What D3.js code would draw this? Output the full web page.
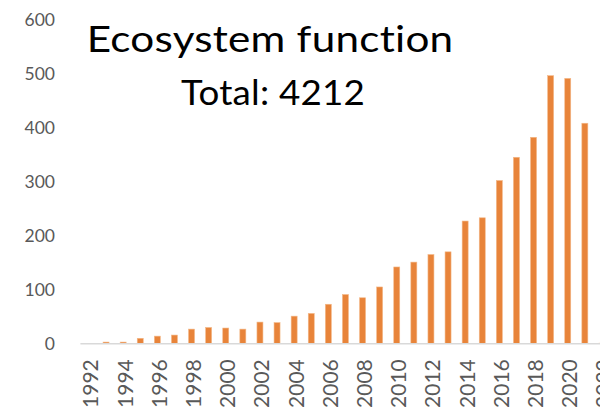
<!DOCTYPE html>
<html>
<head>
<meta charset="utf-8">
<script src="https://cdn.jsdelivr.net/npm/d3@7"></script>
<style>
  html, body { margin: 0; padding: 0; background: #fff; }
  svg { display: block; }
  text { font-variant-ligatures: none; font-feature-settings: "liga" 0, "clig" 0; }
</style>
</head>
<body>
<svg id="chart" width="600" height="411"></svg>
<script>
// Publications per year on ecosystem function
const years = d3.range(1992, 2023).map(String);
const counts = [0, 3, 3, 10, 14, 16, 27, 30, 29, 27, 40, 39, 51, 56, 73, 91,
                85, 105, 142, 151, 165, 170, 227, 233, 302, 345, 382, 496, 491, 408, 1];
const yTicks = [0, 100, 200, 300, 400, 500, 600];
const xTickLabels = years.filter(y => +y % 2 === 0);
const titleText = "Ecosystem function";
const totalText = "Total: " + d3.sum(counts);

const svg = d3.select("#chart");
const barColor = "#E8843A";
const labelColor = "#595959";

const x = d3.scaleBand()
  .domain(years)
  .range([80.4, 80.4 + years.length * 17.1])
  .paddingInner(0.65)
  .paddingOuter(0.325);

const y = d3.scaleLinear().domain([0, 600]).range([343.7, 19.5]);

// Bars
svg.append("g")
  .selectAll("rect")
  .data(counts)
  .join("rect")
  .attr("x", (d, i) => x(years[i]))
  .attr("width", x.bandwidth())
  .attr("y", d => y(d))
  .attr("height", d => y(0) - y(d))
  .attr("fill", barColor)
  .attr("stroke", "#F3B888")
  .attr("stroke-width", 0.6);

// Category axis: baseline plus rotated year labels
const xAxis = d3.axisBottom(x).tickValues(xTickLabels).tickSize(0).tickSizeOuter(0);
const gx = svg.append("g")
  .attr("transform", `translate(0,${y(0)})`)
  .call(xAxis);
gx.select(".domain")
  .attr("d", `M${x.range()[0]},0H${x.range()[1]}`)
  .attr("stroke", "#D9D9D9")
  .attr("stroke-width", 1.5);
gx.selectAll(".tick text")
  .attr("font-family", "Lato, 'Open Sans', sans-serif")
  .attr("font-size", 21)
  .attr("fill", labelColor)
  .attr("text-anchor", "end")
  .attr("dy", null)
  .attr("dominant-baseline", "central")
  .attr("transform", "translate(1,15.5) rotate(-90)")
  .attr("x", 0)
  .attr("y", 0);

// Value axis: labels only
const yAxis = d3.axisLeft(y).tickValues(yTicks).tickSize(0).tickPadding(0);
const gy = svg.append("g")
  .attr("transform", "translate(55,0)")
  .call(yAxis);
gy.select(".domain").remove();
gy.selectAll(".tick text")
  .attr("font-family", "Lato, 'Open Sans', sans-serif")
  .attr("font-size", 17.5)
  .attr("fill", labelColor);

// Titles (non-zero letter-spacing keeps "ti" from forming a ligature)
svg.append("text")
  .attr("x", 86.7)
  .attr("y", 51.7)
  .attr("font-family", "Lato, 'Open Sans', sans-serif")
  .attr("font-size", 37)
  .attr("letter-spacing", 0.2)
  .attr("fill", "#000")
  .attr("textLength", 366.7)
  .attr("lengthAdjust", "spacingAndGlyphs")
  .text(titleText);

svg.append("text")
  .attr("x", 181)
  .attr("y", 105)
  .attr("font-family", "Lato, 'Open Sans', sans-serif")
  .attr("font-size", 35)
  .attr("letter-spacing", 0.2)
  .attr("fill", "#000")
  .attr("textLength", 184)
  .attr("lengthAdjust", "spacingAndGlyphs")
  .text(totalText);
</script>
</body>
</html>
